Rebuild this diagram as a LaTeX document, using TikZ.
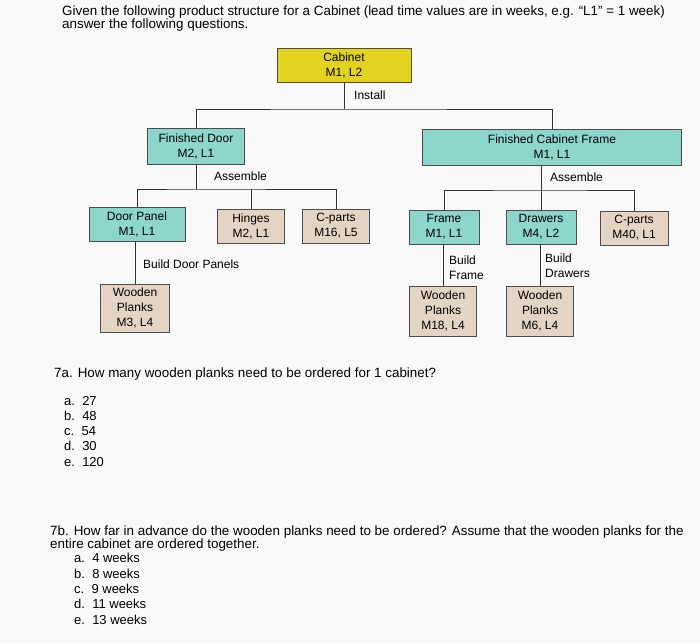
\documentclass[tikz,border=0pt]{standalone}
\usepackage{fontspec}
\setmainfont{Liberation Sans}
\begin{document}
\begin{tikzpicture}[x=1pt,y=-1pt,
  bx/.style={draw=black!70,line width=0.8pt,minimum height=34pt,align=center,font=\fontsize{12}{15}\selectfont,inner sep=1pt},
  cy/.style={bx,fill={rgb,255:red,140;green,214;blue,204}},
  tn/.style={bx,fill={rgb,255:red,228;green,212;blue,196}},
  yl/.style={bx,fill={rgb,255:red,226;green,212;blue,30}},
  ln/.style={draw=black!80,line width=1pt},
  lb/.style={font=\fontsize{12}{15}\selectfont,inner sep=0pt,align=left},
  tx/.style={font=\fontsize{13.4}{12.5}\selectfont,inner sep=0pt,anchor=west,align=left}]
\fill[white!95!gray] (0,0) rectangle (700,643);
\useasboundingbox (0,0) rectangle (700,643);
\node[tx,anchor=north west] (hdr) at (62,6) {Given the following product structure for a Cabinet (lead time values are in weeks, e.g. ``L1'' = 1 week)\\answer the following questions.};
\node[yl,minimum width=134pt] (cab) at (344,65) {Cabinet\\M1, L2};
\node[cy,minimum width=97pt,minimum height=36pt] (fd) at (196,146) {Finished Door\\M2, L1};
\node[cy,minimum width=259pt,minimum height=36pt] (fcf) at (552,147) {Finished Cabinet Frame\\M1, L1};
\node[cy,minimum width=96pt] (dp) at (137,224) {Door Panel\\M1, L1};
\node[tn,minimum width=67pt] (hg) at (251,226) {Hinges\\M2, L1};
\node[tn,minimum width=67pt] (cp1) at (336,226) {C-parts\\M16, L5};
\node[cy,minimum width=70pt] (fr) at (444,227) {Frame\\M1, L1};
\node[cy,minimum width=70pt] (dr) at (541,227) {Drawers\\M4, L2};
\node[tn,minimum width=68pt] (cp2) at (634,228) {C-parts\\M40, L1};
\node[tn,minimum width=69pt,minimum height=48pt] (wp1) at (135,308) {Wooden\\Planks\\M3, L4};
\node[tn,minimum width=67pt,minimum height=50pt] (wp2) at (443,311) {Wooden\\Planks\\M18, L4};
\node[tn,minimum width=67pt,minimum height=50pt] (wp3) at (540,311) {Wooden\\Planks\\M6, L4};
\coordinate (b1) at (344,109);
\draw[ln] (cab.south) -- (b1) (fd.north) |- (b1) -| (fcf.north);
\coordinate (b2) at (196,189);
\draw[ln] (fd.south) -- (b2) (dp.north) |- (b2) -| (cp1.north) (hg.north) -- (hg.north|-b2);
\coordinate (b3) at (541,190);
\draw[ln] (fcf.south -| b3) -- (b3) (fr.north) |- (b3) -| (cp2.north) (dr.north) -- (b3);
\draw[ln] (dp.south -| wp1.north) -- (wp1.north);
\draw[ln] (fr.south -| wp2.north) -- (wp2.north);
\draw[ln] (dr.south -| wp3.north) -- (wp3.north);
\node[lb,anchor=west] (l1) at (354,95) {Install};
\node[lb,anchor=west] (l2) at (214,176) {Assemble};
\node[lb,anchor=west] (l3) at (550,177) {Assemble};
\node[lb,anchor=west] (l4) at (143,264) {Build Door Panels};
\node[lb,anchor=west] (l5) at (449,268) {Build\\Frame};
\node[lb,anchor=west] (l6) at (545,266) {Build\\Drawers};
\node[tx] (q1) at (54,374) {7a. How many wooden planks need to be ordered for 1 cabinet?};
\node[tx,anchor=north west,font=\fontsize{13}{15.2}\selectfont] (a1) at (64,396) {a.\ \ 27\\b.\ \ 48\\c.\ \ 54\\d.\ \ 30\\e.\ \ 120};
\node[tx,anchor=north west] (q2) at (50,526) {7b. How far in advance do the wooden planks need to be ordered? Assume that the wooden planks for the\\entire cabinet are ordered together.};
\node[tx,anchor=north west,font=\fontsize{13}{15.4}\selectfont] (a2) at (74,553) {a.\ \ 4 weeks\\b.\ \ 8 weeks\\c.\ \ 9 weeks\\d.\ \ 11 weeks\\e.\ \ 13 weeks};
\end{tikzpicture}
\end{document}
